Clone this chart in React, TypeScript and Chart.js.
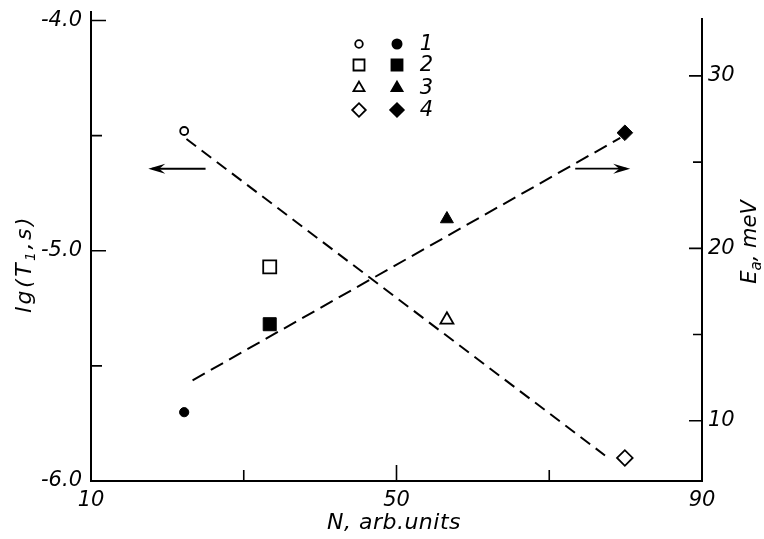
import React, { useEffect, useRef } from 'react';
import { Chart, registerables } from 'chart.js';
import { drawPoint } from 'chart.js/helpers';

Chart.register(...registerables);

// Samples 1–4: concentration N, relaxation time lg(T1) and activation energy Ea
const sampleIds = ['1', '2', '3', '4'];
const concentrationN = [22.2, 33.4, 56.6, 79.9];
const lgRelaxation = [-4.48, -5.07, -5.3, -5.9];
const activationEnergy = [10.5, 15.6, 21.7, 26.7];

// Dashed trend lines (end points)
const lgFitN = [22.5, 77.3];
const lgFitValues = [-4.515, -5.889];
const energyFitN = [23.3, 79.3];
const energyFitValues = [12.35, 26.4];

// Axis ticks
const xTicks = [10, 30, 50, 70, 90];
const xTickLabels = ['10', '', '50', '', '90'];
const lgTicks = [-6, -5.5, -5, -4.5, -4];
const lgTickLabels = ['-6.0', '', '-5.0', '', '-4.0'];
const energyTicks = [10, 15, 20, 25, 30];
const energyTickLabels = ['10', '', '20', '', '30'];

// Marker shape per sample
const markerStyles = ['circle', 'rect', 'triangle', 'rectRot'];
const openRadius = [4, 9.2, 7.5, 7.8];
const filledRadius = [4.6, 9.2, 7.5, 7.8];

const FONT = '"DejaVu Sans", sans-serif';
const tickFont = { family: FONT, size: 21, style: 'italic' as const };

const pickLabel = (ticks: number[], labels: string[]) => (v: number | string) => {
  const i = ticks.findIndex((t) => Math.abs(t - Number(v)) < 1e-6);
  return i >= 0 ? labels[i] : '';
};

// fixed scale sizes; label overhang must not shrink the plot area
const fixWidth = (w: number) => (s: any) => {
  s.width = w;
  s.paddingTop = 0;
  s.paddingBottom = 0;
};
const fixHeight = (h: number) => (s: any) => {
  s.height = h;
  s.paddingLeft = 0;
  s.paddingRight = 0;
};

const decorations = {
  id: 'decorations',
  afterDraw(chart: any) {
    const { ctx, chartArea } = chart;
    const xs = chart.scales.x;
    const ys = chart.scales.y;
    const y1 = chart.scales.y1;
    const { left, right, top, bottom } = chartArea;

    ctx.save();
    ctx.strokeStyle = '#000';
    ctx.fillStyle = '#000';
    ctx.lineCap = 'butt';

    // axis frame (left, bottom, right)
    ctx.lineWidth = 2;
    ctx.beginPath();
    ctx.moveTo(left, top);
    ctx.lineTo(left, bottom);
    ctx.lineTo(right, bottom);
    ctx.lineTo(right, y1.getPixelForValue(33.36));
    ctx.stroke();

    // inward tick marks
    ctx.lineWidth = 1.6;
    ctx.beginPath();
    lgTicks.forEach((v, i) => {
      const p = ys.getPixelForValue(v);
      const len = lgTickLabels[i] ? 15 : 11;
      ctx.moveTo(left, p);
      ctx.lineTo(left + len, p);
    });
    xTicks.forEach((v, i) => {
      const p = xs.getPixelForValue(v);
      const len = xTickLabels[i] ? 16 : 11;
      ctx.moveTo(p, bottom);
      ctx.lineTo(p, bottom - len);
    });
    energyTicks.forEach((v, i) => {
      const p = y1.getPixelForValue(v);
      const len = energyTickLabels[i] ? 13 : 9;
      ctx.moveTo(right, p);
      ctx.lineTo(right - len, p);
    });
    ctx.stroke();

    // arrows pointing to the axis each line belongs to
    const arrow = (x0: number, x1: number, y: number) => {
      const dir = Math.sign(x1 - x0);
      ctx.lineWidth = 1.8;
      ctx.beginPath();
      ctx.moveTo(x0, y);
      ctx.lineTo(x1 - dir * 4, y);
      ctx.stroke();
      ctx.beginPath();
      ctx.moveTo(x1, y);
      ctx.lineTo(x1 - dir * 17, y - 5);
      ctx.lineTo(x1 - dir * 11, y);
      ctx.lineTo(x1 - dir * 17, y + 5);
      ctx.closePath();
      ctx.fill();
    };
    arrow(xs.getPixelForValue(25.0), xs.getPixelForValue(17.5), ys.getPixelForValue(-4.644));
    arrow(xs.getPixelForValue(73.4), xs.getPixelForValue(80.6), y1.getPixelForValue(24.62));

    // legend: open symbols, filled symbols, sample number
    const rows = [44, 65, 88, 110];
    const legOpen = [3.8, 7.8, 6.4, 6.8];
    const legFilled = [4.6, 7.8, 6.4, 6.8];
    sampleIds.forEach((id, i) => {
      const yy = rows[i];
      ctx.fillStyle = '#fff';
      ctx.strokeStyle = '#000';
      drawPoint(ctx, { pointStyle: markerStyles[i], radius: legOpen[i], rotation: 0, borderWidth: 1.6 } as any, 359, yy);
      ctx.fillStyle = '#000';
      drawPoint(ctx, { pointStyle: markerStyles[i], radius: legFilled[i], rotation: 0, borderWidth: 1 } as any, 397, yy);
      ctx.font = `italic 21px ${FONT}`;
      ctx.textAlign = 'right';
      ctx.textBaseline = 'middle';
      ctx.fillText(id, 433, yy + 1);
    });

    // axis titles
    const drawParts = (
      parts: { t: string; size: number; dy: number }[],
      cx: number,
      cy: number,
      rot: number,
      spacing: number
    ) => {
      ctx.save();
      ctx.translate(cx, cy);
      ctx.rotate(rot);
      ctx.textAlign = 'left';
      ctx.textBaseline = 'middle';
      (ctx as any).letterSpacing = `${spacing}px`;
      let total = 0;
      parts.forEach((p) => {
        ctx.font = `italic ${p.size}px ${FONT}`;
        total += ctx.measureText(p.t).width;
      });
      let x = -total / 2;
      parts.forEach((p) => {
        ctx.font = `italic ${p.size}px ${FONT}`;
        ctx.fillText(p.t, x, p.dy);
        x += ctx.measureText(p.t).width;
      });
      ctx.restore();
    };
    ctx.fillStyle = '#000';
    drawParts(
      [
        { t: 'lg(T', size: 22, dy: 0 },
        { t: '1', size: 14, dy: 6 },
        { t: ',s)', size: 22, dy: 0 },
      ],
      25, 264, -Math.PI / 2, 2.5
    );
    drawParts([{ t: 'N, arb.units', size: 22, dy: 0 }], 394, 523, 0, 0.5);
    drawParts(
      [
        { t: 'E', size: 21, dy: 0 },
        { t: 'a', size: 15, dy: 6 },
        { t: ', meV', size: 21, dy: 0 },
      ],
      751, 242, -Math.PI / 2, 0
    );
    ctx.restore();
  },
};

export default function App() {
  const canvasRef = useRef<HTMLCanvasElement | null>(null);

  useEffect(() => {
    if (!canvasRef.current) return;
    const chart = new Chart(canvasRef.current, {
      type: 'scatter',
      data: {
        datasets: [
          {
            label: 'lg fit',
            type: 'line',
            data: lgFitN.map((n, i) => ({ x: n, y: lgFitValues[i] })),
            yAxisID: 'y',
            borderColor: '#000',
            borderWidth: 2,
            borderDash: [12, 7],
            pointRadius: 0,
            fill: false,
          },
          {
            label: 'Ea fit',
            type: 'line',
            data: energyFitN.map((n, i) => ({ x: n, y: energyFitValues[i] })),
            yAxisID: 'y1',
            borderColor: '#000',
            borderWidth: 2,
            borderDash: [14, 7],
            pointRadius: 0,
            fill: false,
          },
          {
            label: 'lg T1',
            data: concentrationN.map((n, i) => ({ x: n, y: lgRelaxation[i] })),
            yAxisID: 'y',
            pointStyle: markerStyles as any,
            pointRadius: openRadius,
            backgroundColor: '#fff',
            borderColor: '#000',
            borderWidth: 1.8,
          },
          {
            label: 'Ea',
            data: concentrationN.map((n, i) => ({ x: n, y: activationEnergy[i] })),
            yAxisID: 'y1',
            pointStyle: markerStyles as any,
            pointRadius: filledRadius,
            backgroundColor: '#000',
            borderColor: '#000',
            borderWidth: 1,
          },
        ],
      },
      options: {
        animation: false,
        responsive: true,
        maintainAspectRatio: false,
        layout: { padding: { top: 10, left: 0, right: 0, bottom: 0 } },
        plugins: { legend: { display: false }, tooltip: { enabled: false } },
        scales: {
          x: {
            type: 'linear',
            min: 10,
            max: 90,
            afterBuildTicks: (s: any) => {
              s.ticks = xTicks.map((v) => ({ value: v }));
            },
            afterFit: fixHeight(58),
            grid: { display: false, drawTicks: false },
            border: { display: false },
            ticks: {
              callback: pickLabel(xTicks, xTickLabels),
              font: tickFont,
              color: '#000',
              padding: 7,
              maxRotation: 0,
              autoSkip: false,
            },
          },
          y: {
            type: 'linear',
            position: 'left',
            min: -6,
            max: -3.959,
            afterBuildTicks: (s: any) => {
              s.ticks = lgTicks.map((v) => ({ value: v }));
            },
            afterFit: fixWidth(91),
            grid: { display: false, drawTicks: false },
            border: { display: false },
            ticks: {
              callback: pickLabel(lgTicks, lgTickLabels),
              font: tickFont,
              color: '#000',
              padding: 9,
              autoSkip: false,
            },
          },
          y1: {
            type: 'linear',
            position: 'right',
            min: 6.51,
            max: 33.76,
            afterBuildTicks: (s: any) => {
              s.ticks = energyTicks.map((v) => ({ value: v }));
            },
            afterFit: fixWidth(62),
            grid: { display: false, drawTicks: false },
            border: { display: false },
            ticks: {
              callback: pickLabel(energyTicks, energyTickLabels),
              font: tickFont,
              color: '#000',
              padding: 6,
              autoSkip: false,
            },
          },
        },
      },
      plugins: [decorations],
    });
    return () => chart.destroy();
  }, []);

  return (
    <div style={{ position: 'absolute', left: 0, top: 0, width: 764, height: 539, background: '#fff' }}>
      <canvas ref={canvasRef} />
    </div>
  );
}
